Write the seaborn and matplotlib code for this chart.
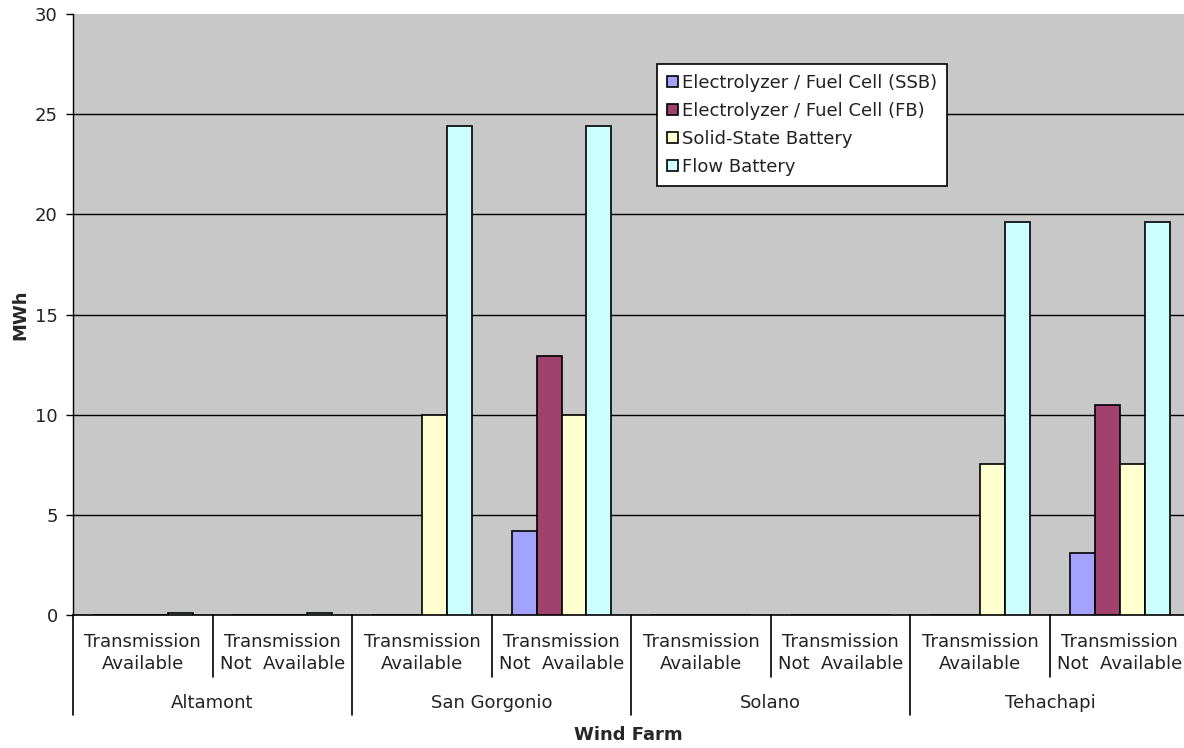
import pandas as pd
import numpy as np
import matplotlib
matplotlib.use("Agg")
import matplotlib.pyplot as plt
import seaborn as sns

# chart data
farms = ["Altamont", "San Gorgonio", "Solano", "Tehachapi"]
cases = ["Transmission\nAvailable", "Transmission\nNot  Available"]
techs = ["Electrolyzer / Fuel Cell (SSB)", "Electrolyzer / Fuel Cell (FB)",
         "Solid-State Battery", "Flow Battery"]
ssb = [0, 0, 0, 4.2, 0, 0, 0, 3.1]
fb = [0, 0, 0, 12.95, 0, 0, 0, 10.5]
solid = [0, 0, 10.0, 10.0, 0, 0, 7.55, 7.55]
flow = [0.1, 0.1, 24.4, 24.4, 0, 0, 19.6, 19.6]
colors = ["#A3A3FF", "#A0416E", "#FFFFD0", "#CCFFFF"]

groups = [f + "|" + c for f in farms for c in cases]
rows = []
for t, vals in zip(techs, [ssb, fb, solid, flow]):
    for g, v in zip(groups, vals):
        rows.append({"group": g, "tech": t, "MWh": v})
D = pd.DataFrame(rows)

FS = 13
sns.set_style("white")
plt.rcParams['font.family'] = ['DejaVu Sans']
fig = plt.figure(figsize=(11.84, 7.48), dpi=100)
ax = fig.add_axes([73/1184, 1-615/748, 1-73/1184, (615-14)/748])
ax.set_facecolor("#C8C8C8")

sns.barplot(data=D, x="group", y="MWh", hue="tech", order=groups, hue_order=techs,
            palette=dict(zip(techs, colors)), saturation=1, width=0.716, gap=0,
            edgecolor="black", linewidth=1.2, ax=ax, zorder=3)

ax.set_ylim(0, 30)
ax.set_xlim(-0.5, 7.46)
ax.set_yticks(range(0, 31, 5))
for y in range(5, 30, 5):
    ax.axhline(y, color="black", linewidth=1, zorder=1)
ax.tick_params(axis="y", labelsize=FS, length=5, width=1, color="black",
               left=True, pad=6, labelcolor="#222222")
ax.set_xticks([])
ax.set_xlabel("")
ax.set_ylabel("MWh", fontsize=FS, fontweight="bold", labelpad=4)
for s in ["top", "right"]:
    ax.spines[s].set_visible(False)
ax.spines["left"].set_color("black")
ax.spines["bottom"].set_color("black")
ax.spines["left"].set_linewidth(1)
ax.spines["bottom"].set_linewidth(1.2)

# multi-level category axis
trans = ax.get_xaxis_transform()
px = 1 / 601  # one pixel in axes-height units
for i, g in enumerate(groups):
    ax.text(i, -38 * px, cases[i % 2], transform=trans, ha="center", va="center",
            fontsize=FS, color="#222222", linespacing=1.3)
for j, f in enumerate(farms):
    ax.text(2 * j + 0.5, -88 * px, f, transform=trans, ha="center", va="center",
            fontsize=FS, color="#222222")
for k in range(1, 8):
    low = -100 * px if k % 2 == 0 else -62 * px
    ax.plot([k - 0.5, k - 0.5], [0, low], transform=trans, color="black",
            lw=1.2, clip_on=False)
ax.plot([-0.5, -0.5], [0, -100 * px], transform=trans, color="black",
        lw=1.2, clip_on=False)
ax.text(0.5, -120 * px, "Wind Farm", transform=ax.transAxes, ha="center",
        va="center", fontsize=FS, fontweight="bold")

handles, labels = ax.get_legend_handles_labels()
leg = ax.legend(handles, labels, loc="upper left", bbox_to_anchor=(0.5257, 0.9168),
                borderaxespad=0, fontsize=FS, frameon=True, fancybox=False,
                framealpha=1, edgecolor="black", handlelength=0.6, handleheight=0.6,
                handletextpad=0.25, borderpad=0.55, labelspacing=0.55)
leg.get_frame().set_linewidth(1.2)
for t in leg.get_texts():
    t.set_color("#222222")

plt.savefig("out.png", dpi=100)
